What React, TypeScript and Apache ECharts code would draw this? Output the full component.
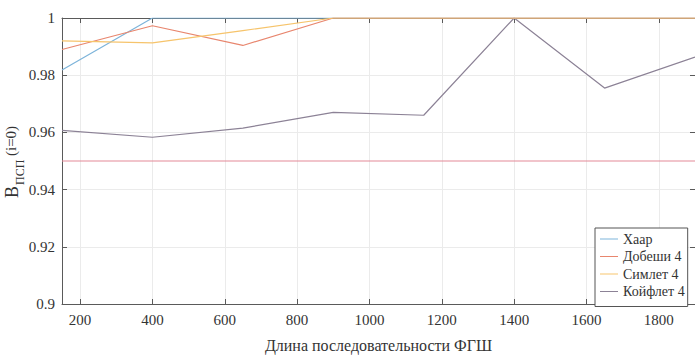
import React, { useEffect, useRef } from "react";
import * as echarts from "echarts";

const xValues = [150, 400, 650, 900, 1150, 1400, 1650, 1900];
const haar = [0.9818, 1, 1, 1, 1, 1, 1, 1];
const daub4 = [0.989, 0.9973, 0.9904, 1, 1, 1, 1, 1];
const symlet4 = [0.992, 0.9913, 0.9956, 1, 1, 1, 1, 1];
const coiflet4 = [0.9607, 0.9583, 0.9615, 0.967, 0.966, 1, 0.9755, 0.9863];
const threshold = [0.95, 0.95];
const thresholdX = [150, 1900];
const xTicks = [200, 400, 600, 800, 1000, 1200, 1400, 1600, 1800];
const seriesNames = ["Хаар", "Добеши 4", "Симлет 4", "Койфлет 4"];
const colors = ["#7db4da", "#e8866e", "#f6c46c", "#8c8296"];

const FONT = "Liberation Serif";
const LEGEND_ICON = "path://M0,0H18V1H0Z";

export default function App() {
  const ref = useRef<HTMLDivElement>(null);
  useEffect(() => {
    if (!ref.current) return;
    const chart = echarts.init(ref.current, undefined, { renderer: "svg" });
    const pair = (ys: number[]) => xValues.map((x, i) => [x, ys[i]]);
    const lineSeries = (name: string, ys: number[], color: string, z: number) => ({
      type: "line",
      name,
      data: pair(ys),
      symbol: "none",
      lineStyle: { color, width: 1.2 },
      itemStyle: { color },
      z,
    });
    const axisLine = { show: true, lineStyle: { color: "#5a5a5a", width: 1 } };
    const tickStyle = { color: "#5a5a5a" };
    chart.setOption({
      animation: false,
      backgroundColor: "#ffffff",
      textStyle: { fontFamily: FONT },
      grid: { left: 62, top: 18, width: 634, height: 291, containLabel: false },
      xAxis: [
        {
          type: "value",
          min: 150,
          max: 1900,
          axisLine,
          axisTick: { show: true, inside: true, length: 5, lineStyle: tickStyle, customValues: xTicks },
          axisLabel: {
            fontFamily: FONT,
            fontSize: 15,
            color: "#333",
            margin: 8.5,
            customValues: xTicks,
            formatter: (v: number) => String(v),
          },
          splitLine: { show: true, lineStyle: { color: "#ebebeb" } },
          name: "Длина последовательности ФГШ",
          nameLocation: "middle",
          nameGap: 33,
          nameTextStyle: { fontFamily: FONT, fontSize: 16, color: "#333" },
        },
        {
          type: "value",
          position: "top",
          min: 150,
          max: 1900,
          axisLine,
          axisTick: { show: true, inside: true, length: 5, lineStyle: tickStyle, customValues: xTicks },
          axisLabel: { show: false },
          splitLine: { show: false },
        },
      ],
      yAxis: [
        {
          type: "value",
          min: 0.9,
          max: 1,
          interval: 0.02,
          axisLine,
          axisTick: { show: true, inside: true, length: 5, lineStyle: tickStyle },
          axisLabel: {
            fontFamily: FONT,
            fontSize: 15,
            color: "#333",
            margin: 7,
            formatter: (v: number) => String(Math.round(v * 100) / 100),
          },
          splitLine: { show: true, lineStyle: { color: "#ebebeb" } },
        },
        {
          type: "value",
          position: "right",
          min: 0.9,
          max: 1,
          interval: 0.02,
          axisLine,
          axisTick: { show: true, inside: true, length: 5, lineStyle: tickStyle },
          axisLabel: { show: false },
          splitLine: { show: false },
        },
      ],
      legend: {
        data: seriesNames.map((n) => ({ name: n, icon: LEGEND_ICON })),
        orient: "vertical",
        left: 595,
        top: 228,
        padding: [4, 3, 8, 5],
        itemWidth: 18,
        itemHeight: 14,
        itemGap: 3.5,
        backgroundColor: "#ffffff",
        borderColor: "#555",
        borderWidth: 1,
        borderRadius: 0,
        textStyle: { fontFamily: FONT, fontSize: 14, color: "#333" },
      },
      graphic: [
        {
          type: "group",
          x: 0,
          y: 198,
          rotation: Math.PI / 2,
          children: [
            { type: "text", x: 0, y: 11.5, style: { text: "B", fontFamily: FONT, fontSize: 18, fill: "#333", verticalAlign: "middle" } },
            { type: "text", x: 13, y: 20, style: { text: "ПСП", fontFamily: FONT, fontSize: 12, fill: "#333", verticalAlign: "middle" } },
            { type: "text", x: 42, y: 11, style: { text: "(i=0)", fontFamily: FONT, fontSize: 15, fill: "#333", verticalAlign: "middle" } },
          ],
        },
      ],
      series: [
        {
          type: "line",
          name: "порог",
          data: thresholdX.map((x, i) => [x, threshold[i]]),
          symbol: "none",
          lineStyle: { color: "#e48a98", width: 1.2 },
          z: 1,
        },
        lineSeries(seriesNames[3], coiflet4, colors[3], 2),
        lineSeries(seriesNames[0], haar, colors[0], 3),
        lineSeries(seriesNames[1], daub4, colors[1], 4),
        lineSeries(seriesNames[2], symlet4, colors[2], 5),
      ],
    });
    return () => chart.dispose();
  }, []);
  return <div ref={ref} style={{ position: "fixed", left: 0, top: 0, width: 695, height: 358, background: "#fff" }} />;
}
